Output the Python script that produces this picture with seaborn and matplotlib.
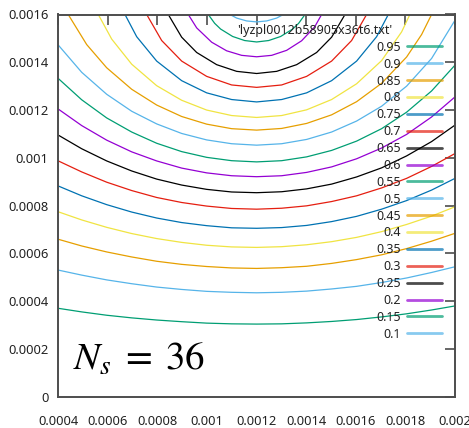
import matplotlib
matplotlib.use("Agg")
import matplotlib.pyplot as plt
import pandas as pd
import seaborn as sns

# ---------------- data ----------------
# contour levels, in legend order (top to bottom)
levels = ["0.95", "0.9", "0.85", "0.8", "0.75", "0.7", "0.65", "0.6", "0.55",
          "0.5", "0.45", "0.4", "0.35", "0.3", "0.25", "0.2", "0.15", "0.1"]
level_colors = ["#009e73", "#56b4e9", "#e69f00", "#f0e442", "#0072b2", "#e51e10",
                "#000000", "#9400d3", "#009e73", "#56b4e9", "#e69f00", "#f0e442",
                "#0072b2", "#e51e10", "#000000", "#9400d3", "#009e73", "#56b4e9"]

UNIT = 1e-4  # contour coordinates below are given in units of 1e-4

x_grid17 = [4.0, 4.944, 5.952, 6.960, 7.968, 8.976, 9.984, 10.992, 12.0, 13.008,
            14.016, 15.024, 16.032, 17.04, 18.048, 19.056, 20.0]

y_095 = [3.70, 3.55, 3.41, 3.30, 3.21, 3.14, 3.08, 3.05, 3.04, 3.05, 3.09, 3.15,
         3.23, 3.34, 3.47, 3.63, 3.80]
y_090 = [5.30, 5.09, 4.89, 4.73, 4.59, 4.49, 4.41, 4.37, 4.35, 4.37, 4.42, 4.51,
         4.62, 4.78, 4.97, 5.20, 5.44]
y_085 = [6.59, 6.31, 6.06, 5.85, 5.67, 5.54, 5.45, 5.39, 5.37, 5.40, 5.46, 5.58,
         5.74, 5.94, 6.20, 6.51, 6.84]
y_080 = [7.74, 7.40, 7.09, 6.83, 6.62, 6.46, 6.34, 6.27, 6.25, 6.28, 6.36, 6.49,
         6.67, 6.91, 7.21, 7.56, 7.95]
y_075 = [8.82, 8.41, 8.04, 7.73, 7.48, 7.29, 7.16, 7.07, 7.05, 7.08, 7.17, 7.33,
         7.55, 7.85, 8.21, 8.65, 9.14]
y_070 = [9.87, 9.41, 8.98, 8.63, 8.34, 8.13, 7.98, 7.88, 7.85, 7.89, 7.99, 8.17,
         8.41, 8.74, 9.14, 9.64, 10.18]
y_065 = [10.95, 10.38, 9.87, 9.45, 9.11, 8.86, 8.68, 8.57, 8.54, 8.58, 8.70, 8.90,
         9.20, 9.58, 10.08, 10.68, 11.37]
y_060 = [12.04, 11.35, 10.74, 10.25, 9.87, 9.57, 9.37, 9.25, 9.21, 9.25, 9.39, 9.62,
         9.96, 10.41, 10.98, 11.71, 12.55]
y_055 = [13.32, 12.43, 11.67, 11.08, 10.61, 10.26, 10.02, 9.88, 9.83, 9.88, 10.04,
         10.31, 10.70, 11.22, 11.91, 12.80, 13.88]
y_050 = [14.72, 13.58, 12.66, 11.95, 11.42, 11.02, 10.75, 10.59, 10.53, 10.59, 10.77,
         11.08, 11.54, 12.16, 13.00, 14.16, 15.76]

x_045 = [4.40, 5.146, 5.952, 6.960, 7.968, 8.976, 9.984, 10.992, 12.0, 13.008, 14.016,
         15.024, 16.032, 17.04, 18.048, 18.653, 19.056]
y_045 = [16.0, 14.74, 13.77, 12.87, 12.21, 11.73, 11.41, 11.22, 11.16, 11.23, 11.44,
         11.80, 12.35, 13.12, 14.22, 15.16, 16.0]
x_040 = [5.613, 6.154, 6.960, 7.968, 8.976, 9.984, 10.992, 12.0, 13.008, 14.016,
         15.024, 16.032, 17.04, 17.846, 18.181]
y_040 = [16.0, 14.97, 13.92, 13.02, 12.41, 12.00, 11.77, 11.69, 11.77, 12.01, 12.44,
         13.10, 14.07, 15.27, 16.0]
x_035 = [6.690, 7.162, 7.968, 8.976, 9.984, 10.992, 12.0, 13.008, 14.016, 15.024,
         16.032, 16.838, 17.310]
y_035 = [16.0, 15.07, 14.05, 13.23, 12.72, 12.44, 12.34, 12.44, 12.72, 13.23, 14.05,
         15.07, 16.0]
x_030 = [7.565, 8.170, 8.976, 9.984, 10.992, 12.0, 13.008, 14.016, 15.024, 15.830, 16.435]
y_030 = [16.0, 14.91, 14.05, 13.41, 13.05, 12.95, 13.05, 13.41, 14.05, 14.91, 16.0]
x_025 = [8.436, 8.976, 9.581, 10.387, 11.194, 12.0, 12.806, 13.613, 14.419, 15.024, 15.564]
y_025 = [16.0, 15.05, 14.41, 13.90, 13.62, 13.53, 13.62, 13.90, 14.41, 15.05, 16.0]
x_020 = [9.242, 9.581, 10.186, 10.790, 11.395, 12.0, 12.605, 13.210, 13.814, 14.339, 14.621]
y_020 = [16.0, 15.44, 14.84, 14.48, 14.29, 14.23, 14.29, 14.50, 14.90, 15.48, 16.0]
x_015 = [10.049, 10.307, 10.548, 11.032, 11.516, 12.0, 12.484, 12.968, 13.452, 13.693, 13.951]
y_015 = [16.0, 15.63, 15.39, 15.08, 14.91, 14.85, 14.91, 15.08, 15.39, 15.63, 16.0]
x_010 = [10.923, 11.194, 11.597, 12.0, 12.403, 12.806, 13.077]
y_010 = [16.0, 15.85, 15.73, 15.69, 15.73, 15.85, 16.0]

x_ticks = [0.0004, 0.0006, 0.0008, 0.001, 0.0012, 0.0014, 0.0016, 0.0018, 0.002]
x_tick_labels = ["0.0004", "0.0006", "0.0008", "0.001", "0.0012", "0.0014",
                 "0.0016", "0.0018", "0.002"]
y_ticks = [0, 0.0002, 0.0004, 0.0006, 0.0008, 0.001, 0.0012, 0.0014, 0.0016]
y_tick_labels = ["0", "0.0002", "0.0004", "0.0006", "0.0008", "0.001", "0.0012",
                 "0.0014", "0.0016"]

key_title = "'lyzpl0012b58905x36t6.txt'"
annotation = r"$N_s\;=\;36$"

# ---------------- build table ----------------
curves = {
    "0.95": (x_grid17, y_095), "0.9": (x_grid17, y_090), "0.85": (x_grid17, y_085),
    "0.8": (x_grid17, y_080), "0.75": (x_grid17, y_075), "0.7": (x_grid17, y_070),
    "0.65": (x_grid17, y_065), "0.6": (x_grid17, y_060), "0.55": (x_grid17, y_055),
    "0.5": (x_grid17, y_050), "0.45": (x_045, y_045), "0.4": (x_040, y_040),
    "0.35": (x_035, y_035), "0.3": (x_030, y_030), "0.25": (x_025, y_025),
    "0.2": (x_020, y_020), "0.15": (x_015, y_015), "0.1": (x_010, y_010),
}
rows = []
for lev in levels:
    xs, ys = curves[lev]
    for i, (xv, yv) in enumerate(zip(xs, ys)):
        rows.append({"level": lev, "idx": i, "x": xv * UNIT, "y": yv * UNIT})
df = pd.DataFrame(rows)
palette = dict(zip(levels, level_colors))

# ---------------- plot ----------------
sns.set_style("white")
plt.rcParams["font.family"] = ["Noto Sans", "DejaVu Sans"]
plt.rcParams["mathtext.fontset"] = "stix"

fig = plt.figure(figsize=(4.69, 4.28), dpi=100)
ax = fig.add_axes([58.3 / 469, (428 - 396.7) / 428, (455 - 58.3) / 469, (396.7 - 14.5) / 428])

sns.lineplot(data=df, x="x", y="y", hue="level", hue_order=levels, palette=palette,
             sort=False, estimator=None, linewidth=0.9, ax=ax, legend=True)

ax.set_xlim(0.0004, 0.002)
ax.set_ylim(0, 0.0016)
ax.set_xticks(x_ticks, labels=x_tick_labels)
ax.set_yticks(y_ticks, labels=y_tick_labels)
ax.set_xlabel("")
ax.set_ylabel("")

frame_col = "#4d4d4d"
for s in ax.spines.values():
    s.set_visible(True)
    s.set_color(frame_col)
    s.set_linewidth(1.4)
ax.tick_params(direction="in", length=7, width=1.2, color=frame_col, top=True,
               right=True, labelsize=9.3, labelcolor="#222222")
ax.tick_params(axis="x", pad=13)
ax.tick_params(axis="y", pad=7)

handles, labels = ax.get_legend_handles_labels()
leg = ax.legend(handles, labels, loc="upper right", bbox_to_anchor=(0.967, 0.931),
                frameon=False, markerfirst=False, fontsize=9, handlelength=2.8,
                handletextpad=0.5, labelspacing=0.31, borderpad=0, borderaxespad=0)
for ln in leg.get_lines():
    ln.set_linewidth(2.0)
    ln.set_alpha(0.7)
for t in leg.get_texts():
    t.set_color("#222222")

ax.text(0.647, 0.9594, key_title, transform=ax.transAxes, ha="center", va="center",
        fontsize=9, color="#222222")
ax.text(0.037, 0.0699, annotation, transform=ax.transAxes, ha="left", va="baseline",
        fontsize=28, color="black")

fig.savefig("out.png", dpi=100)
